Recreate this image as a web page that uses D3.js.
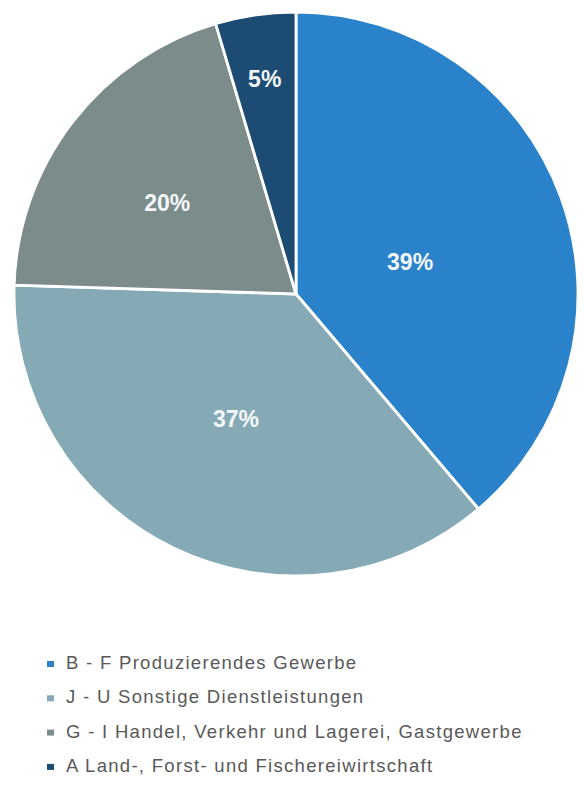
<!DOCTYPE html>
<html>
<head>
<meta charset="utf-8">
<script src="https://cdn.jsdelivr.net/npm/d3@7"></script>
<style>
  html, body { margin: 0; padding: 0; background: #fff; }
  svg { display: block; }
</style>
</head>
<body>
<svg id="chart" width="584" height="787"></svg>
<script>
const categories = [
  "B - F Produzierendes Gewerbe",
  "J - U Sonstige Dienstleistungen",
  "G - I Handel, Verkehr und Lagerei, Gastgewerbe",
  "A Land-, Forst- und Fischereiwirtschaft"
];
const values = [38.8, 36.7, 19.9, 4.6];
const labels = ["39%", "37%", "20%", "5%"];
const colors = ["#2A83CA", "#86AAB5", "#7B8C8B", "#1C4C73"];

const svg = d3.select("#chart");
const cx = 296, cy = 294, r = 282;
const labelRadiusFactor = [0.42, 0.49, 0.56, 0.77];
const labelAngleShift = [0.08, 0, -0.04, 0];

const pie = d3.pie().sort(null).value(d => d)(values);
const arc = d3.arc().innerRadius(0).outerRadius(r);

const g = svg.append("g").attr("transform", `translate(${cx},${cy})`);
g.selectAll("path.slice").data(pie).join("path")
  .attr("class", "slice")
  .attr("d", arc)
  .attr("fill", (d, i) => colors[i])
  .attr("stroke", "#fff")
  .attr("stroke-width", 2.8)
  .attr("stroke-linejoin", "round");

g.selectAll("text.lbl").data(pie).join("text")
  .attr("class", "lbl")
  .attr("transform", (d, i) => {
    const a = (d.startAngle + d.endAngle) / 2 + labelAngleShift[i];
    const rr = r * labelRadiusFactor[i];
    return `translate(${rr * Math.sin(a)},${-rr * Math.cos(a)})`;
  })
  .attr("text-anchor", "middle")
  .attr("dy", "0.36em")
  .attr("fill", "#F4F8FB")
  .attr("font-family", "'Liberation Sans', Arial, sans-serif")
  .attr("font-weight", "bold")
  .attr("font-size", 23)
  .text((d, i) => labels[i]);

const legend = svg.append("g").attr("transform", "translate(47,669)");
const rowH = 34.3;
const items = legend.selectAll("g.item").data(categories).join("g")
  .attr("class", "item")
  .attr("transform", (d, i) => `translate(0,${i * rowH})`);
items.append("rect")
  .attr("x", 0).attr("y", -8).attr("width", 7).attr("height", 6)
  .attr("fill", (d, i) => colors[i]);
items.append("text")
  .attr("x", 19).attr("y", 0)
  .attr("fill", "#595959")
  .attr("font-family", "'Liberation Sans', Arial, sans-serif")
  .attr("font-size", 18.5)
  .attr("letter-spacing", 1.3)
  .text(d => d);
</script>
</body>
</html>
